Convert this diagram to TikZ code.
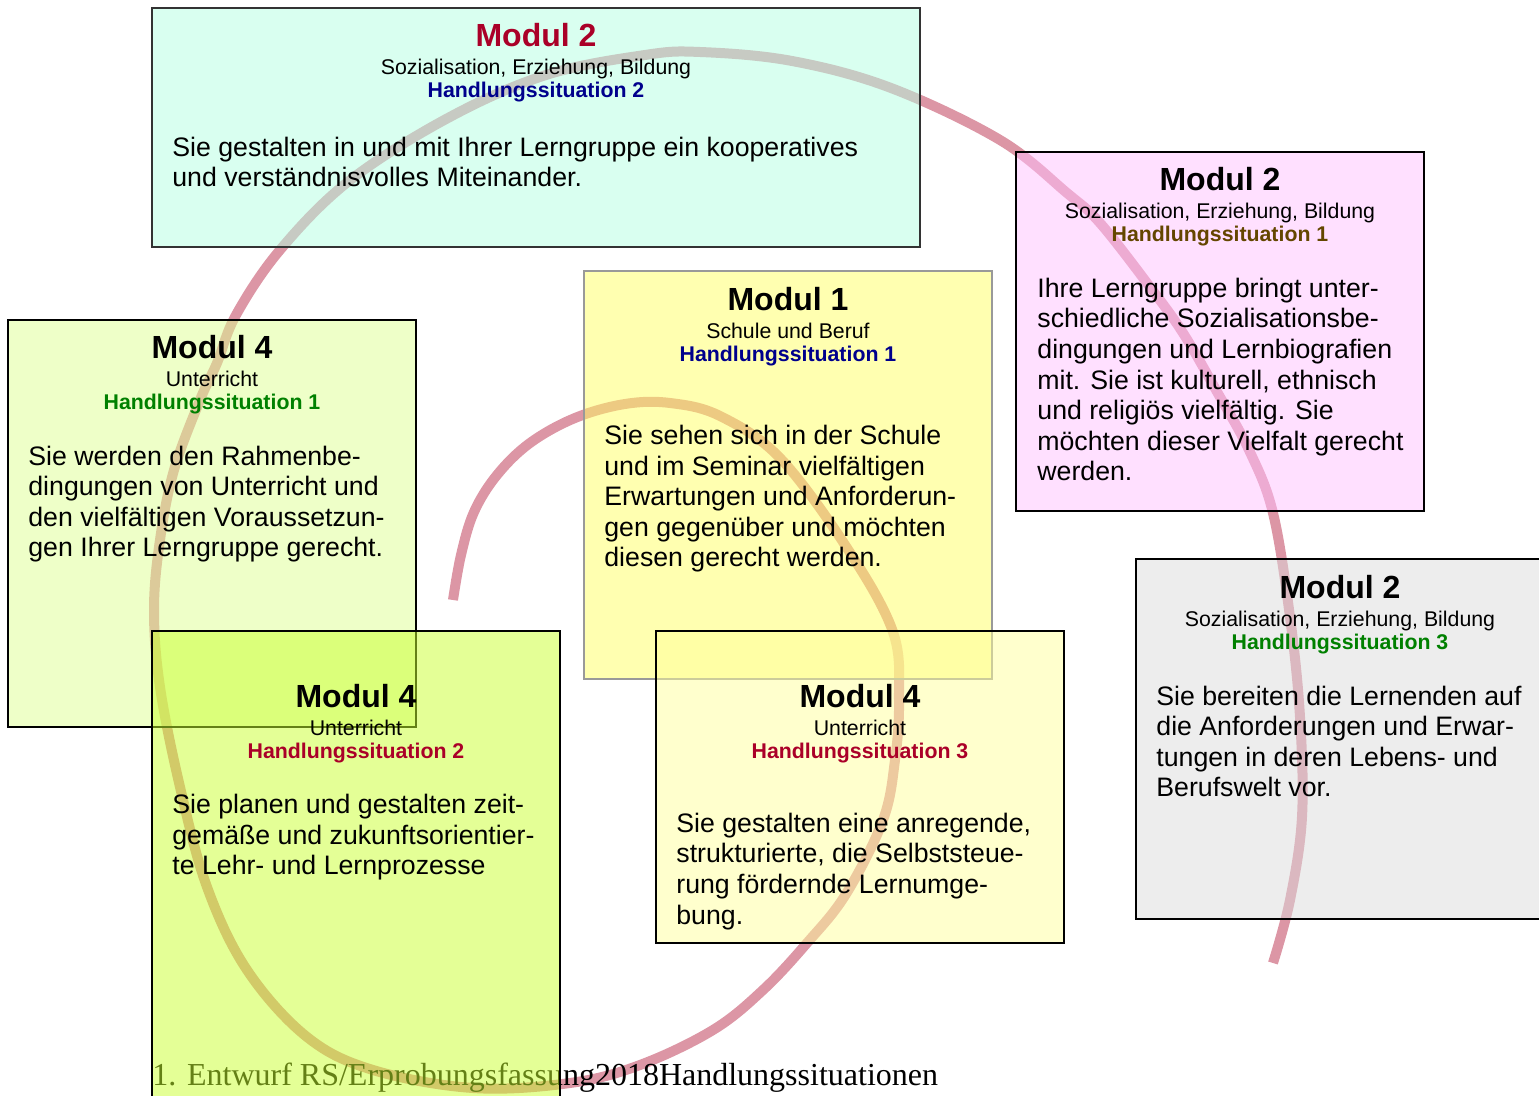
\documentclass[tikz,border=0pt]{standalone}
\usepackage{fontspec}
\setmainfont{Liberation Sans}
\newfontfamily\footserif{Liberation Serif}
\definecolor{spiralpink}{RGB}{220,150,165}
\definecolor{mintfill}{RGB}{179,255,225}
\definecolor{pinkfill}{RGB}{255,193,255}
\definecolor{yellowfill}{RGB}{255,255,97}
\definecolor{limefill}{RGB}{221,255,145}
\definecolor{greenfill}{RGB}{201,255,45}
\definecolor{creamfill}{RGB}{255,255,155}
\definecolor{greyfill}{RGB}{219,219,219}
\definecolor{hsred}{RGB}{170,0,40}
\definecolor{hsblue}{RGB}{0,0,140}
\definecolor{hsbrown}{RGB}{100,70,0}
\definecolor{hsgreen}{RGB}{0,128,0}
\tikzset{
    card/.style={draw=black, line width=1pt, fill opacity=.5},
    cardtitle/.style={anchor=base, inner sep=0pt,
        font=\fontsize{16}{19}\selectfont\bfseries},
    cardsub/.style={anchor=base, inner sep=0pt,
        font=\fontsize{10.65}{12.8}\selectfont},
    cardhs/.style={anchor=base, inner sep=0pt,
        font=\fontsize{10.65}{12.8}\selectfont\bfseries},
    % base of a multi-line node = baseline of its last line
    cardtext/.style={anchor=base west, align=left, inner sep=0pt,
        font=\fontsize{13.35}{15.3}\selectfont},
    spiral/.style={spiralpink, line width=5pt},
}

\begin{document}
\begin{tikzpicture}[x=.5pt, y=-.5pt]
    \useasboundingbox (0, 0) rectangle (1539, 1096);
    % the spiral lies under the cards, they tint it
    \draw[spiral] plot[smooth, tension=.6] coordinates {(453,600) (461,555)
        (474,512) (497,475) (530,443) (575,418) (625,404) (670,403) (720,416)
        (780,458) (847,548) (893,632) (899,700) (895,760) (883,820) (846,894)
        (807,943) (763,990) (713,1030) (640,1065) (570,1083) (473,1088)
        (373,1070) (307,1037) (247,970) (207,887) (180,787) (160,687)
        (154,610) (160,540) (174,470) (200,400) (217,363) (236,315) (280,250)
        (349,181) (448,118) (546,75) (645,55) (700,52) (792,61) (891,88)
        (1000,140) (1067,193) (1100,223) (1150,287) (1183,333) (1216,390)
        (1249,450) (1273,513) (1290,617) (1300,717) (1302,817) (1290,900)
        (1273,963)};
    \node[anchor=base west, inner sep=0pt,
        font=\footserif\fontsize{16}{19}\selectfont] (footer) at (152, 1085)
        {1. Entwurf RS/Erprobungsfassung2018Handlungssituationen};

    % Modul 2, HS 2
    \filldraw[card, draw=black!80, fill=mintfill] (152, 8) rectangle (920, 247);
    \node[cardtitle, hsred] (mtwohstwo) at (536, 47) {Modul 2};
    \node[cardsub] (mtwohstwosub) at (536, 75) {Sozialisation, Erziehung, Bildung};
    \node[cardhs, hsblue] (mtwohstwohs) at (536, 98) {Handlungssituation 2};
    \node[cardtext] (mtwohstwotext) at (172, 187) {Sie gestalten in und mit
        Ihrer Lerngruppe ein kooperatives\\und verständnisvolles Miteinander.};

    % Modul 2, HS 1
    \filldraw[card, fill=pinkfill] (1016, 152) rectangle (1424, 511);
    \node[cardtitle] (mtwohsone) at (1220, 191) {Modul 2};
    \node[cardsub] (mtwohsonesub) at (1220, 219) {Sozialisation, Erziehung, Bildung};
    \node[cardhs, hsbrown] (mtwohsonehs) at (1220, 242) {Handlungssituation 1};
    \node[cardtext] (mtwohsonetext) at (1037, 481) {Ihre Lerngruppe bringt
        unter-\\schiedliche Sozialisationsbe-\\dingungen und
        Lernbiografien\\mit. Sie ist kulturell, ethnisch\\und religiös
        vielfältig. Sie\\möchten dieser Vielfalt gerecht\\werden.};

    % Modul 1, HS 1
    \filldraw[card, draw=black!40, fill=yellowfill] (584, 271) rectangle (992, 679);
    \node[cardtitle] (monehsone) at (788, 311) {Modul 1};
    \node[cardsub] (monehsonesub) at (788, 339) {Schule und Beruf};
    \node[cardhs, hsblue] (monehsonehs) at (788, 362) {Handlungssituation 1};
    \node[cardtext] (monehsonetext) at (604, 567) {Sie sehen sich in der
        Schule\\und im Seminar vielfältigen\\Erwartungen und
        Anforderun-\\gen gegenüber und möchten\\diesen gerecht werden.};

    % Modul 4, HS 1
    \filldraw[card, fill=limefill] (8, 320) rectangle (416, 727);
    \node[cardtitle] (mfourhsone) at (212, 359) {Modul 4};
    \node[cardsub] (mfourhsonesub) at (212, 387) {Unterricht};
    \node[cardhs, hsgreen] (mfourhsonehs) at (212, 410) {Handlungssituation 1};
    \node[cardtext] (mfourhsonetext) at (28, 557) {Sie werden den
        Rahmenbe-\\dingungen von Unterricht und\\den vielfältigen
        Voraussetzun-\\gen Ihrer Lerngruppe gerecht.};

    % Modul 4, HS 2
    \filldraw[card, fill=greenfill] (152, 631) rectangle (560, 1110);
    \node[cardtitle] (mfourhstwo) at (356, 708) {Modul 4};
    \node[cardsub] (mfourhstwosub) at (356, 736) {Unterricht};
    \node[cardhs, hsred] (mfourhstwohs) at (356, 759) {Handlungssituation 2};
    \node[cardtext] (mfourhstwotext) at (172, 875) {Sie planen und gestalten
        zeit-\\gemäße und zukunftsorientier-\\te Lehr- und Lernprozesse};

    % Modul 4, HS 3
    \filldraw[card, fill=creamfill] (656, 631) rectangle (1064, 943);
    \node[cardtitle] (mfourhsthree) at (860, 708) {Modul 4};
    \node[cardsub] (mfourhsthreesub) at (860, 736) {Unterricht};
    \node[cardhs, hsred] (mfourhsthreehs) at (860, 759) {Handlungssituation 3};
    \node[cardtext] (mfourhsthreetext) at (676, 924) {Sie gestalten eine
        anregende,\\strukturierte, die Selbststeue-\\rung fördernde
        Lernumge-\\bung.};

    % Modul 2, HS 3
    \filldraw[card, fill=greyfill] (1136, 559) rectangle (1544, 919);
    \node[cardtitle] (mtwohsthree) at (1340, 599) {Modul 2};
    \node[cardsub] (mtwohsthreesub) at (1340, 627) {Sozialisation, Erziehung, Bildung};
    \node[cardhs, hsgreen] (mtwohsthreehs) at (1340, 650) {Handlungssituation 3};
    \node[cardtext] (mtwohsthreetext) at (1156, 797) {Sie bereiten die
        Lernenden auf\\die Anforderungen und Erwar-\\tungen in deren
        Lebens- und\\Berufswelt vor.};
\end{tikzpicture}
\end{document}
